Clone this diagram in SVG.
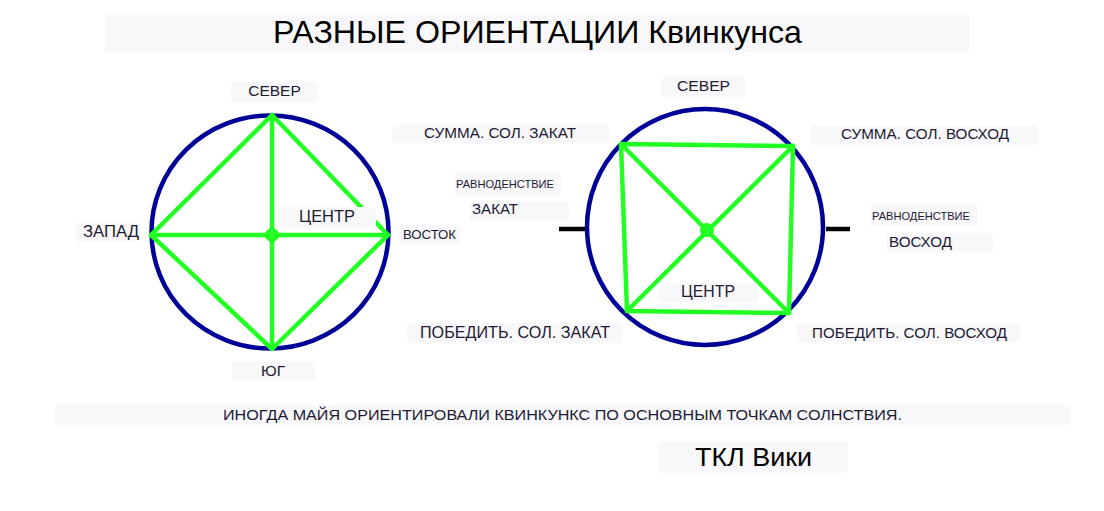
<svg xmlns="http://www.w3.org/2000/svg" width="1104" height="511" viewBox="0 0 1104 511">
<style>
.bg{fill:#f8f8fa}
.t{font-family:"Liberation Sans",Arial,sans-serif;fill:#221a33}
.ring{fill:none;stroke:#000099;stroke-width:4.5}
.g{stroke:#22ff22;stroke-width:4.5;fill:none;stroke-linecap:round;stroke-linejoin:round}
.tick{stroke:#000;stroke-width:4.5}
</style>
<rect width="1104" height="511" fill="#ffffff"/>

<g id="title">
<rect class="bg" x="105" y="15" width="865" height="37" rx="4"/>
<text class="t" x="273" y="43" font-size="32" style="fill:#000" textLength="529" lengthAdjust="spacingAndGlyphs">РАЗНЫЕ ОРИЕНТАЦИИ Квинкунса</text>
</g>

<g id="connectors">
<ellipse class="ring" cx="270" cy="232" rx="118.5" ry="116.5"/>
<line class="g" x1="272" y1="115" x2="272" y2="349"/>
<line class="g" x1="151" y1="235" x2="388" y2="235"/>
<polygon class="g" points="272,115 151,235 272,349 388,235"/>
<circle cx="272" cy="235" r="7" fill="#22ff22"/>
<ellipse class="ring" cx="705" cy="227" rx="118" ry="118"/>
<line class="tick" x1="559" y1="229" x2="585" y2="229"/>
<line class="tick" x1="826" y1="229" x2="850" y2="229"/>
<polygon class="g" points="621,144 793,146 789,313 627,311"/>
<line class="g" x1="621" y1="144" x2="789" y2="313"/>
<line class="g" x1="793" y1="146" x2="627" y2="311"/>
<circle cx="707" cy="230" r="7" fill="#22ff22"/>
</g>

<g id="left-north">
<rect class="bg" x="231" y="82" width="86" height="20" rx="3"/>
<text class="t" x="274.5" y="96" font-size="15.5" text-anchor="middle">СЕВЕР</text>
</g>
<g id="left-west">
<rect class="bg" x="76" y="223" width="64" height="19" rx="3"/>
<text class="t" x="83" y="237" font-size="16" textLength="56" lengthAdjust="spacingAndGlyphs">ЗАПАД</text>
</g>
<g id="left-east">
<rect class="bg" x="399" y="226" width="61" height="18" rx="3"/>
<text class="t" x="403" y="239" font-size="13" textLength="53" lengthAdjust="spacingAndGlyphs">ВОСТОК</text>
</g>
<g id="left-south">
<rect class="bg" x="232" y="362" width="83" height="19" rx="3"/>
<text class="t" x="273" y="376" font-size="15.5" text-anchor="middle">ЮГ</text>
</g>
<g id="left-center">
<rect class="bg" x="278" y="207" width="98" height="21" rx="3"/>
<text class="t" x="299" y="222" font-size="16" textLength="56" lengthAdjust="spacingAndGlyphs">ЦЕНТР</text>
</g>

<g id="summer-sunset">
<rect class="bg" x="392" y="125" width="217" height="18" rx="3"/>
<text class="t" x="424" y="138" font-size="15" textLength="152" lengthAdjust="spacingAndGlyphs">СУММА. СОЛ. ЗАКАТ</text>
</g>
<g id="equinox-sunset">
<rect class="bg" x="454" y="173" width="107" height="22" rx="3"/>
<text class="t" x="456" y="188" font-size="11.5" textLength="98" lengthAdjust="spacingAndGlyphs">РАВНОДЕНСТВИЕ</text>
<rect class="bg" x="470" y="202" width="99" height="19" rx="3"/>
<text class="t" x="472" y="214" font-size="14.5" textLength="46" lengthAdjust="spacingAndGlyphs">ЗАКАТ</text>
</g>
<g id="winter-sunset">
<rect class="bg" x="407" y="323" width="215" height="20" rx="3"/>
<text class="t" x="420" y="338" font-size="16" textLength="190" lengthAdjust="spacingAndGlyphs">ПОБЕДИТЬ. СОЛ. ЗАКАТ</text>
</g>

<g id="right-north">
<rect class="bg" x="661" y="77" width="84" height="20" rx="3"/>
<text class="t" x="677" y="91" font-size="15.5" textLength="53" lengthAdjust="spacingAndGlyphs">СЕВЕР</text>
</g>
<g id="right-center">
<rect class="bg" x="659" y="283" width="99" height="19" rx="3"/>
<text class="t" x="681" y="297" font-size="16" textLength="54" lengthAdjust="spacingAndGlyphs">ЦЕНТР</text>
</g>
<g id="summer-sunrise">
<rect class="bg" x="811" y="126" width="227" height="19" rx="3"/>
<text class="t" x="841" y="139" font-size="15" textLength="168" lengthAdjust="spacingAndGlyphs">СУММА. СОЛ. ВОСХОД</text>
</g>
<g id="equinox-sunrise">
<rect class="bg" x="870" y="205" width="108" height="21" rx="3"/>
<text class="t" x="872" y="220" font-size="11.5" textLength="98" lengthAdjust="spacingAndGlyphs">РАВНОДЕНСТВИЕ</text>
<rect class="bg" x="886" y="233" width="107" height="19" rx="3"/>
<text class="t" x="889" y="247" font-size="15" textLength="63" lengthAdjust="spacingAndGlyphs">ВОСХОД</text>
</g>
<g id="winter-sunrise">
<rect class="bg" x="797" y="324" width="223" height="18" rx="3"/>
<text class="t" x="812" y="338" font-size="15.5" textLength="195" lengthAdjust="spacingAndGlyphs">ПОБЕДИТЬ. СОЛ. ВОСХОД</text>
</g>

<g id="caption">
<rect class="bg" x="55" y="405" width="1015" height="20" rx="3"/>
<text class="t" x="223" y="419.5" font-size="14.5" textLength="679" lengthAdjust="spacingAndGlyphs">ИНОГДА МАЙЯ ОРИЕНТИРОВАЛИ КВИНКУНКС ПО ОСНОВНЫМ ТОЧКАМ СОЛНСТВИЯ.</text>
</g>
<g id="credit">
<rect class="bg" x="659" y="442" width="189" height="31" rx="3"/>
<text class="t" x="695" y="466" font-size="25" style="fill:#000" textLength="117" lengthAdjust="spacingAndGlyphs">ТКЛ Вики</text>
</g>
</svg>
